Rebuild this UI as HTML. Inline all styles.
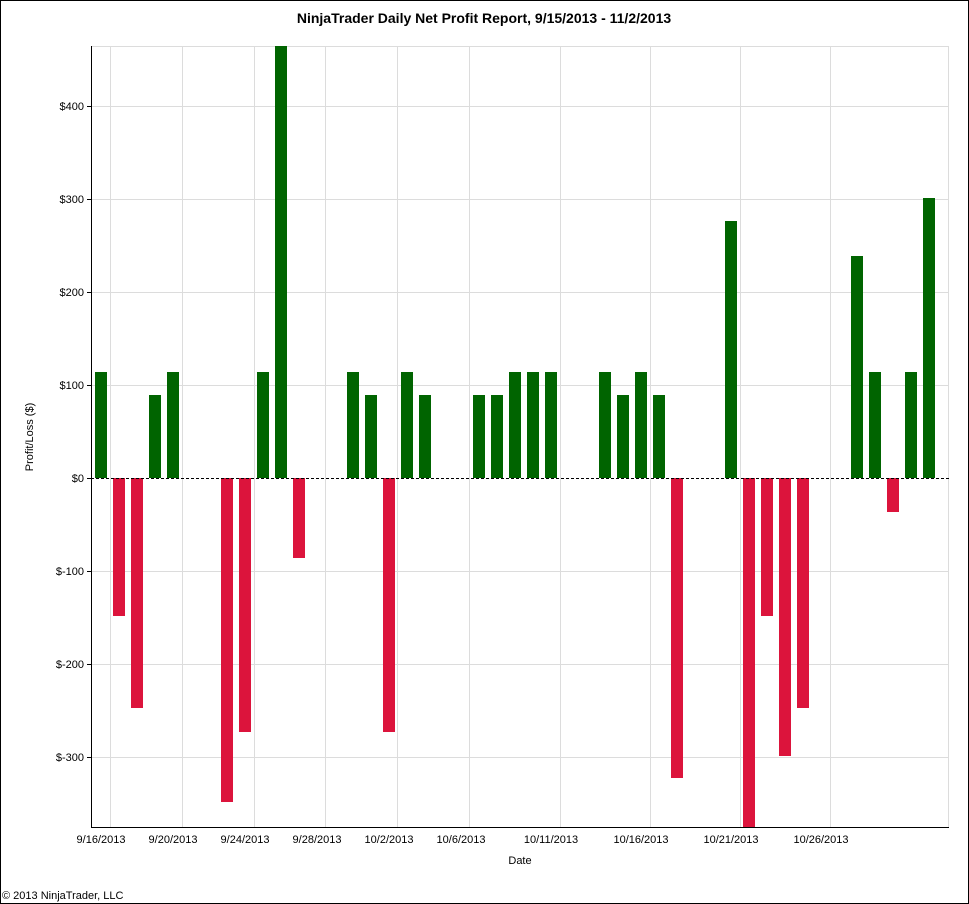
<!DOCTYPE html>
<html><head><style>body{margin:0;background:#fff}svg{display:block}</style></head><body>
<svg width="969" height="904" xmlns="http://www.w3.org/2000/svg" font-family="Liberation Sans, Arial, sans-serif">
<rect x="0.5" y="0.5" width="968" height="903" fill="#fff" stroke="#000"/>
<text x="484" y="23" text-anchor="middle" font-size="14" font-weight="bold">NinjaTrader Daily Net Profit Report, 9/15/2013 - 11/2/2013</text>
<g stroke="#dcdcdc" stroke-width="1">
<line x1="91" y1="46.5" x2="949" y2="46.5"/>
<line x1="91" y1="106.5" x2="949" y2="106.5"/>
<line x1="91" y1="199.5" x2="949" y2="199.5"/>
<line x1="91" y1="292.5" x2="949" y2="292.5"/>
<line x1="91" y1="385.5" x2="949" y2="385.5"/>
<line x1="91" y1="571.5" x2="949" y2="571.5"/>
<line x1="91" y1="664.5" x2="949" y2="664.5"/>
<line x1="91" y1="757.5" x2="949" y2="757.5"/>
<line x1="110.5" y1="46" x2="110.5" y2="827"/>
<line x1="182.5" y1="46" x2="182.5" y2="827"/>
<line x1="254.5" y1="46" x2="254.5" y2="827"/>
<line x1="325.5" y1="46" x2="325.5" y2="827"/>
<line x1="397.5" y1="46" x2="397.5" y2="827"/>
<line x1="469.5" y1="46" x2="469.5" y2="827"/>
<line x1="560.5" y1="46" x2="560.5" y2="827"/>
<line x1="650.5" y1="46" x2="650.5" y2="827"/>
<line x1="740.5" y1="46" x2="740.5" y2="827"/>
<line x1="830.5" y1="46" x2="830.5" y2="827"/>
<line x1="948.5" y1="46" x2="948.5" y2="827"/>
</g>
<g fill="#006400">
<rect x="95" y="372" width="12" height="106"/>
<rect x="149" y="395" width="12" height="83"/>
<rect x="167" y="372" width="12" height="106"/>
<rect x="257" y="372" width="12" height="106"/>
<rect x="275" y="46" width="12" height="432"/>
<rect x="347" y="372" width="12" height="106"/>
<rect x="365" y="395" width="12" height="83"/>
<rect x="401" y="372" width="12" height="106"/>
<rect x="419" y="395" width="12" height="83"/>
<rect x="473" y="395" width="12" height="83"/>
<rect x="491" y="395" width="12" height="83"/>
<rect x="509" y="372" width="12" height="106"/>
<rect x="527" y="372" width="12" height="106"/>
<rect x="545" y="372" width="12" height="106"/>
<rect x="599" y="372" width="12" height="106"/>
<rect x="617" y="395" width="12" height="83"/>
<rect x="635" y="372" width="12" height="106"/>
<rect x="653" y="395" width="12" height="83"/>
<rect x="725" y="221" width="12" height="257"/>
<rect x="851" y="256" width="12" height="222"/>
<rect x="869" y="372" width="12" height="106"/>
<rect x="905" y="372" width="12" height="106"/>
<rect x="923" y="198" width="12" height="280"/>
</g>
<g fill="#dc143c">
<rect x="113" y="478" width="12" height="138"/>
<rect x="131" y="478" width="12" height="230"/>
<rect x="221" y="478" width="12" height="324"/>
<rect x="239" y="478" width="12" height="254"/>
<rect x="293" y="478" width="12" height="80"/>
<rect x="383" y="478" width="12" height="254"/>
<rect x="671" y="478" width="12" height="300"/>
<rect x="743" y="478" width="12" height="349"/>
<rect x="761" y="478" width="12" height="138"/>
<rect x="779" y="478" width="12" height="278"/>
<rect x="797" y="478" width="12" height="230"/>
<rect x="887" y="478" width="12" height="34"/>
</g>
<line x1="91" y1="478.5" x2="949" y2="478.5" stroke="#000" stroke-dasharray="3,2"/>
<line x1="91.5" y1="46" x2="91.5" y2="828" stroke="#000"/>
<line x1="91" y1="827.5" x2="949" y2="827.5" stroke="#000"/>
<g stroke="#000">
<line x1="87" y1="106.5" x2="91" y2="106.5"/><line x1="87" y1="199.5" x2="91" y2="199.5"/>
<line x1="87" y1="292.5" x2="91" y2="292.5"/><line x1="87" y1="385.5" x2="91" y2="385.5"/>
<line x1="87" y1="478.5" x2="91" y2="478.5"/><line x1="87" y1="571.5" x2="91" y2="571.5"/>
<line x1="87" y1="664.5" x2="91" y2="664.5"/><line x1="87" y1="757.5" x2="91" y2="757.5"/>
</g>
<g font-size="11" text-anchor="end" fill="#000">
<text x="84" y="110">$400</text><text x="84" y="203">$300</text><text x="84" y="296">$200</text>
<text x="84" y="389">$100</text><text x="84" y="482">$0</text><text x="84" y="575">$-100</text>
<text x="84" y="668">$-200</text><text x="84" y="761">$-300</text>
</g>
<g font-size="11" text-anchor="middle">
<text x="101" y="843">9/16/2013</text><text x="173" y="843">9/20/2013</text><text x="245" y="843">9/24/2013</text>
<text x="317" y="843">9/28/2013</text><text x="389" y="843">10/2/2013</text><text x="461" y="843">10/6/2013</text>
<text x="551" y="843">10/11/2013</text><text x="641" y="843">10/16/2013</text><text x="731" y="843">10/21/2013</text>
<text x="821" y="843">10/26/2013</text>
<text x="520" y="864">Date</text>
</g>
<text x="0" y="0" font-size="11" text-anchor="middle" transform="translate(33,437) rotate(-90)">Profit/Loss ($)</text>
<text x="2" y="899" font-size="11">© 2013 NinjaTrader, LLC</text>
</svg>
</body></html>
